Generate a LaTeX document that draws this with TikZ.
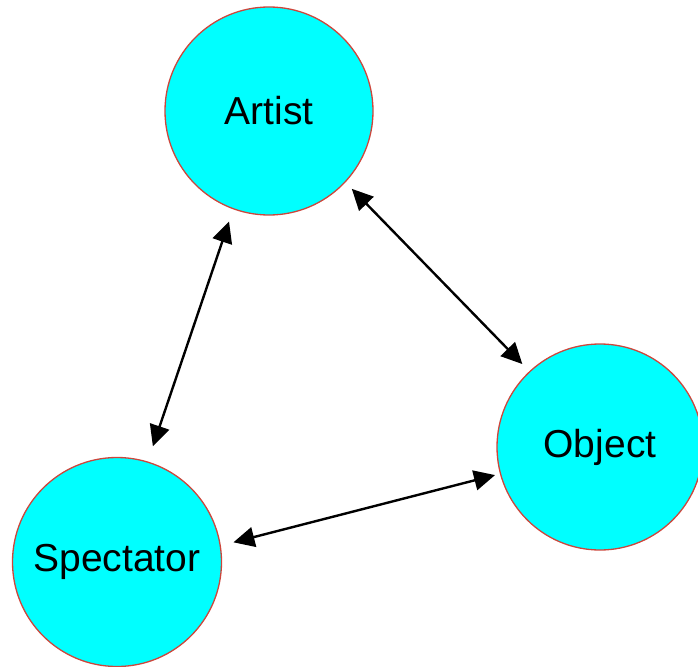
\documentclass[tikz,border=0pt]{standalone}
\usepackage{fontspec}
\setmainfont{Liberation Sans}
\usetikzlibrary{arrows.meta}
\definecolor{fillc}{RGB}{0,255,255}
\definecolor{edgec}{RGB}{205,70,60}
\begin{document}
\begin{tikzpicture}[x=1pt,y=-1pt,
  ball/.style={circle,draw=edgec,line width=1.3pt,fill=fillc,inner sep=0pt,font=\fontsize{39}{46}\selectfont},
  link/.style={line width=2.4pt,{Triangle[length=21pt,width=20pt]}-{Triangle[length=21pt,width=20pt]}}]
\useasboundingbox (0,0) rectangle (698,666);
\node[ball,minimum size=208pt] (A) at (269,111) {Artist};
\node[ball,minimum size=206pt] (O) at (600,447) {Object};
\node[ball,minimum size=209pt] (S) at (117,562) {Spectator};
\draw[link,shorten <=13pt,shorten >=16pt] (A.250.6) -- (S.73);
\draw[link,shorten <=9pt,shorten >=10pt] (A.317) -- (O.133.6);
\draw[link,shorten <=13pt,shorten >=5pt] (S.9.8) -- (O.195);
\end{tikzpicture}
\end{document}
